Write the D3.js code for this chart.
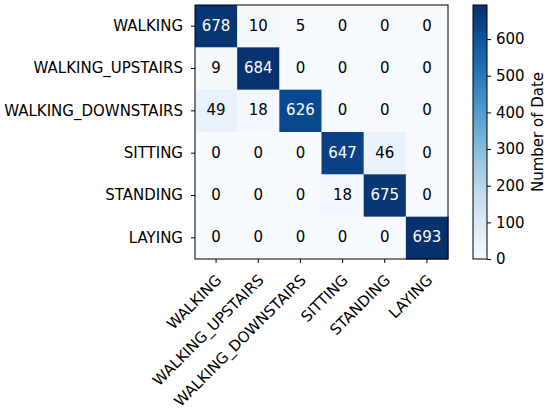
<!DOCTYPE html>
<html>
<head>
<meta charset="utf-8">
<script src="https://cdn.jsdelivr.net/npm/d3@7"></script>
<style>
body { margin: 0; background: #fff; }
text { font-family: "DejaVu Sans", sans-serif; }
</style>
</head>
<body>
<svg width="550" height="410"></svg>
<script>
var classes = ["WALKING", "WALKING_UPSTAIRS", "WALKING_DOWNSTAIRS", "SITTING", "STANDING", "LAYING"];
var matrix = [
	[678, 10, 5, 0, 0, 0],
	[9, 684, 0, 0, 0, 0],
	[49, 18, 626, 0, 0, 0],
	[0, 0, 0, 647, 46, 0],
	[0, 0, 0, 18, 675, 0],
	[0, 0, 0, 0, 0, 693]
];
var cbarTicks = [0, 100, 200, 300, 400, 500, 600];
var cbarLabel = "Number of Date";

var svg = d3.select("svg");
var fontSize = 15;
var mLeft = 195, mRight = 448, mTop = 5, mBottom = 259;
var cbLeft = 473, cbRight = 487;

var vmax = d3.max(matrix, function(r) { return d3.max(r); });
var color = d3.scaleSequential(d3.interpolateBlues).domain([0, vmax]);

var x = d3.scaleBand().domain(d3.range(classes.length)).range([mLeft, mRight]);
var y = d3.scaleBand().domain(d3.range(classes.length)).range([mTop, mBottom]);

var cells = [];
matrix.forEach(function(row, i) {
	row.forEach(function(v, j) { cells.push({ r: i, c: j, v: v }); });
});

var g = svg.append("g");
g.selectAll(".cell").data(cells).enter().append("rect")
	.attr("x", function(d) { return x(d.c); })
	.attr("y", function(d) { return y(d.r); })
	.attr("width", x.bandwidth() + 0.5)
	.attr("height", y.bandwidth() + 0.5)
	.attr("fill", function(d) { return color(d.v); });

g.selectAll(".val").data(cells).enter().append("text")
	.attr("x", function(d) { return x(d.c) + x.bandwidth() / 2; })
	.attr("y", function(d) { return y(d.r) + y.bandwidth() / 2; })
	.attr("dy", "0.3em")
	.attr("text-anchor", "middle")
	.style("font-size", fontSize + "px")
	.attr("fill", function(d) { return d.v > vmax / 2 ? "#fff" : "#000"; })
	.text(function(d) { return d.v; });

g.append("rect")
	.attr("x", mLeft).attr("y", mTop)
	.attr("width", mRight - mLeft).attr("height", mBottom - mTop)
	.attr("fill", "none").attr("stroke", "#000").attr("stroke-width", 1);

// y axis
var yAxis = d3.axisLeft(y).tickSize(4).tickPadding(8).tickFormat(function(i) { return classes[i]; });
var ya = svg.append("g").attr("transform", "translate(" + mLeft + ",0)").call(yAxis);
ya.select(".domain").remove();
ya.selectAll("text").style("font-size", fontSize + "px").attr("fill", "#000").style("font-family", "DejaVu Sans");

// x axis, labels turned 45 degrees
var xAxis = d3.axisBottom(x).tickSize(4).tickFormat(function(i) { return classes[i]; });
var xa = svg.append("g").attr("transform", "translate(0," + mBottom + ")").call(xAxis);
xa.select(".domain").remove();
xa.selectAll("text")
	.style("font-size", fontSize + "px").attr("fill", "#000").style("font-family", "DejaVu Sans")
	.attr("text-anchor", "end")
	.attr("x", 0).attr("y", 0).attr("dy", 0)
	.attr("transform", "translate(6.5,22) rotate(-45)");

// colorbar
var defs = svg.append("defs");
var grad = defs.append("linearGradient").attr("id", "cb")
	.attr("x1", "0").attr("y1", "1").attr("x2", "0").attr("y2", "0");
d3.range(0, 1.001, 0.05).forEach(function(t) {
	grad.append("stop").attr("offset", t).attr("stop-color", color(t * vmax));
});
svg.append("rect")
	.attr("x", cbLeft).attr("y", mTop)
	.attr("width", cbRight - cbLeft).attr("height", mBottom - mTop)
	.attr("fill", "url(#cb)").attr("stroke", "#000").attr("stroke-width", 1);

var cy = d3.scaleLinear().domain([0, vmax]).range([mBottom, mTop]);
var ca = svg.append("g").attr("transform", "translate(" + cbRight + ",0)")
	.call(d3.axisRight(cy).tickValues(cbarTicks).tickSize(4).tickPadding(5));
ca.select(".domain").remove();
ca.selectAll("text").style("font-size", fontSize + "px").attr("fill", "#000").style("font-family", "DejaVu Sans");

svg.append("text")
	.attr("transform", "translate(538," + ((mTop + mBottom) / 2) + ") rotate(-90)")
	.attr("text-anchor", "middle")
	.attr("dy", "0.35em")
	.style("font-size", fontSize + "px")
	.text(cbarLabel);
</script>
</body>
</html>
